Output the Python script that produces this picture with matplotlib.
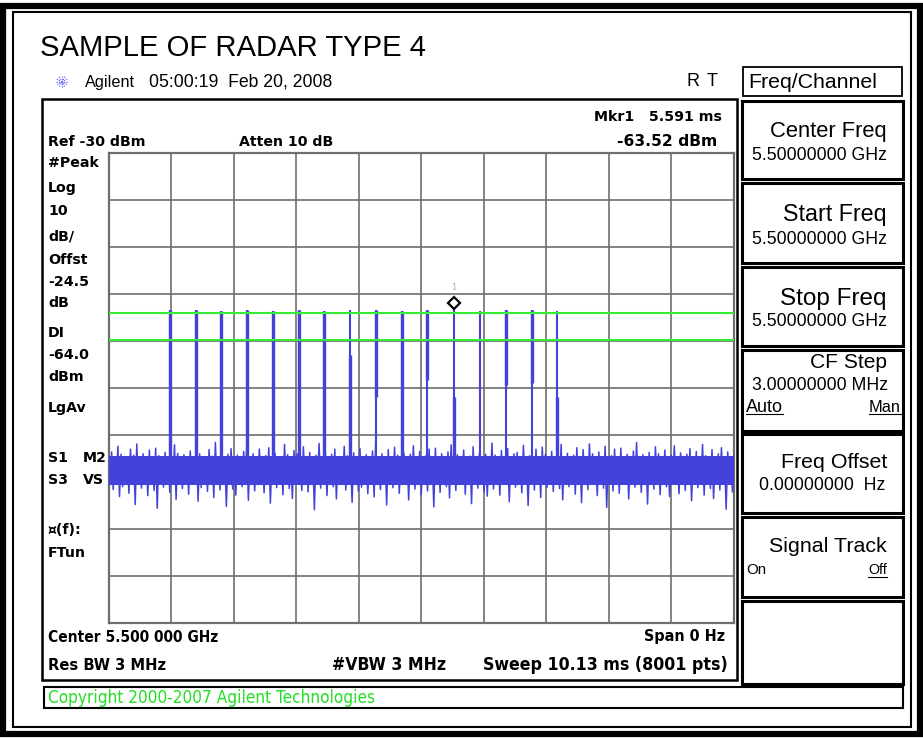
import numpy as np
import matplotlib
matplotlib.use("Agg")
import matplotlib.pyplot as plt
from matplotlib.patches import Rectangle

# ---------------- data ----------------
sweep_ms = 10.13
ref_dbm = -30.0
db_per_div = 10.0
pulse_times_ms = [1.000, 1.421, 1.825, 2.241, 2.662, 3.078, 3.487, 3.919,
                  4.334, 4.749, 5.165, 5.591, 6.017, 6.437, 6.853, 7.262]
pulse_top_dbm = [-63.5, -63.5, -63.6, -63.5, -63.6, -63.4, -63.6, -63.5,
                 -63.5, -63.6, -63.5, -63.5, -63.6, -63.5, -63.5, -63.6]
pulse_thick_lo = [-97, -97, -97, -97, -97, -97, -97, -97,
                  -81.9, -97, -78.3, -97, -97, -79.4, -79.0, -97]
pulse_thick_hi = [-63.5, -63.5, -63.6, -63.5, -63.6, -63.4, -63.6, -73.0,
                  -63.5, -63.6, -63.5, -81.9, -97, -63.5, -63.5, -81.9]
display_line_dbm = -64.0
threshold_line_dbm = -69.8
marker_time_ms = 5.591
marker_dbm = -63.52

noise_core = (-100.6, -94.5)
noise_hi = [-95.0,-93.6,-95.0,-92.4,-94.1,-95.0,-95.0,-93.0,-94.3,-91.9,-95.0,-94.0,-95.0,-93.2,-95.0,-92.8,-94.4,-95.0,-93.7,-95.0,
            -95.0,-92.1,-93.9,-95.0,-94.2,-95.0,-93.4,-95.0,-92.6,-94.0,-95.0,-95.0,-93.1,-94.5,-91.6,-95.0,-93.8,-95.0,-94.1,-92.9,
            -95.0,-94.3,-95.0,-93.5,-92.2,-95.0,-94.0,-95.0,-93.0,-95.0,-94.4,-92.7,-95.0,-93.9,-95.0,-95.0,-92.0,-94.2,-95.0,-93.3,
            -94.0,-95.0,-92.5,-95.0,-93.7,-95.0,-94.3,-91.8,-95.0,-93.6,-95.0,-94.1,-93.0,-95.0,-95.0,-92.4,-94.4,-95.0,-93.8,-95.0,
            -92.9,-95.0,-94.2,-95.0,-93.4,-91.5,-95.0,-94.0,-95.0,-93.1,-95.0,-92.6,-94.3,-95.0,-93.9,-95.0,-94.1,-92.3,-95.0,-93.5,
            -95.0,-94.4,-93.0,-95.0,-92.8,-95.0,-94.0,-95.0,-93.6,-92.1,-95.0,-94.2,-95.0,-93.2,-95.0,-94.5,-92.5,-95.0,-93.8,-95.0,
            -94.1,-95.0,-91.7,-94.3,-95.0,-93.3,-95.0,-92.9,-95.0,-94.0,-93.7,-95.0,-92.2,-95.0,-94.4,-95.0,-93.0,-95.0,-92.6,-94.1,
            -95.0,-93.5,-95.0,-94.2,-92.0,-95.0,-93.9,-95.0,-94.3,-92.7,-95.0,-93.1,-95.0,-91.9,-94.0,-95.0,-93.6,-95.0,-92.4,-95.0,
            -94.4,-93.0,-95.0,-92.8,-95.0,-94.1,-95.0,-93.4,-91.6,-95.0,-94.2,-95.0,-93.7,-95.0,-92.5,-94.0,-95.0,-93.2,-95.0,-94.3,
            -92.3,-95.0,-93.8,-95.0,-94.1,-92.9,-95.0,-93.5,-95.0,-92.0,-94.4,-95.0,-93.1,-95.0,-94.0,-92.7,-95.0,-93.6,-95.0,-94.2]
noise_lo = [-100.0,-101.6,-100.0,-103.1,-101.0,-100.0,-102.4,-100.0,-104.8,-100.0,-101.3,-100.0,-102.9,-100.0,-101.8,-105.6,-100.0,-101.1,-100.0,-102.2,
            -100.0,-103.7,-100.0,-101.4,-100.0,-102.6,-100.0,-100.0,-104.1,-101.2,-100.0,-102.0,-100.0,-103.3,-100.0,-101.7,-100.0,-105.2,-100.0,-101.5,
            -102.8,-100.0,-101.0,-100.0,-103.9,-100.0,-101.9,-100.0,-100.0,-102.3,-100.0,-104.5,-100.0,-101.2,-100.0,-102.7,-100.0,-101.4,-103.5,-100.0,
            -100.0,-101.8,-100.0,-102.1,-100.0,-105.9,-100.0,-101.3,-100.0,-102.9,-100.0,-101.0,-103.6,-100.0,-100.0,-101.7,-100.0,-104.3,-100.0,-102.0,
            -101.1,-100.0,-102.5,-100.0,-103.2,-100.0,-101.6,-100.0,-104.9,-100.0,-101.2,-100.0,-102.4,-100.0,-100.0,-103.8,-100.0,-101.5,-100.0,-102.7,
            -100.0,-101.9,-100.0,-105.3,-100.0,-102.2,-100.0,-101.0,-103.4,-100.0,-101.8,-100.0,-100.0,-102.6,-100.0,-104.6,-100.0,-101.3,-100.0,-102.1,
            -103.0,-100.0,-101.5,-100.0,-102.8,-100.0,-100.0,-104.2,-100.0,-101.1,-100.0,-102.3,-100.0,-105.0,-100.0,-101.7,-100.0,-103.3,-100.0,-101.2,
            -100.0,-102.0,-100.0,-101.4,-103.8,-100.0,-101.0,-100.0,-102.6,-100.0,-104.4,-100.0,-101.6,-100.0,-100.0,-102.9,-100.0,-101.3,-105.4,-100.0,
            -101.9,-100.0,-102.4,-100.0,-100.0,-103.6,-100.0,-101.1,-100.0,-102.2,-100.0,-104.7,-100.0,-101.5,-100.0,-102.7,-100.0,-101.0,-103.1,-100.0,
            -100.0,-102.5,-100.0,-101.8,-100.0,-104.0,-100.0,-101.2,-100.0,-102.8,-100.0,-101.4,-103.5,-100.0,-101.7,-100.0,-105.8,-100.0,-102.1,-100.0]

left_labels = ["Ref -30 dBm", "#Peak", "Log", "10", "dB/", "Offst", "-24.5", "dB", "DI", "-64.0",
               "dBm", "LgAv", "S1", "S3", "\u00a4(f):", "FTun"]
left_label_y = [142, 163, 188, 211, 237, 260, 282, 303, 333, 355, 377, 408, 458, 480, 530, 553]

softkey_titles = ["Center Freq", "Start Freq", "Stop Freq", "CF Step", "Freq Offset", "Signal Track", ""]
softkey_values = ["5.50000000 GHz", "5.50000000 GHz", "5.50000000 GHz", "3.00000000 MHz", "0.00000000  Hz", "", ""]

# ---------------- figure ----------------
W, H = 923, 738
fig = plt.figure(figsize=(W / 100, H / 100), dpi=100)
fig.patch.set_facecolor("white")
ov = fig.add_axes([0, 0, 1, 1])
ov.set_xlim(0, W)
ov.set_ylim(H, 0)
ov.axis("off")
renderer = fig.canvas.get_renderer()

ARIAL = ["Liberation Sans", "DejaVu Sans"]
WIDE = ["DejaVu Sans"]


def txt(x, y, s, width=None, size=10, ha="left", weight="normal", family=ARIAL, color="black", **kw):
    t = ov.text(x, y, s, ha=ha, va="center", fontsize=size, fontweight=weight,
                family=family, color=color, **kw)
    if width is not None:
        bb = t.get_window_extent(renderer=renderer)
        if bb.width > 0:
            t.set_fontsize(size * width / bb.width)
    return t


def rect(x0, y0, x1, y1, lw=1.5, ec="black", fc="none", z=2):
    ov.add_patch(Rectangle((x0, y0), x1 - x0, y1 - y0, lw=lw, ec=ec, fc=fc, zorder=z))


# outer frame
rect(3, 5.5, 919.5, 733.5, lw=4.5)
rect(13, 12, 911, 727, lw=1.5)

# title and header
txt(40, 48, "SAMPLE OF RADAR TYPE 4", width=387, size=17)
for ang in np.arange(0, 180, 30):
    dx, dy = 6 * np.cos(np.radians(ang)), 6 * np.sin(np.radians(ang))
    ov.plot([62 - dx, 62 + dx], [82 - dy, 82 + dy], color="#6b6bff", lw=0.9, ls=(0, (1, 1)))
txt(85, 82, "Agilent", width=50, size=9.5)
txt(149, 82, "05:00:19  Feb 20, 2008", width=183, size=9.5)
txt(686, 82, "R", size=13)
txt(707, 82, "T", size=13)

# main display box
rect(42, 98.5, 737, 680, lw=1.8)

# right softkey panel
rect(743, 67, 902, 96, lw=1.3)
txt(748, 82, "Freq/Channel", width=128, size=13)
box_tops = [101, 183, 267, 350, 434, 517, 601]
box_bots = [179, 263, 346, 431, 513, 597, 684]
for i in range(7):
    rect(742, box_tops[i], 903, box_bots[i], lw=2.2)
title_y = [131, 215, 299, 362, 463, 546]
value_y = [156, 240, 322, 386, 486, 570]
title_w = [118, 104, 107, 77, 107, 119]
for i in range(6):
    txt(887, title_y[i], softkey_titles[i], width=title_w[i], size=14, ha="right")
for i, vw in zip(range(5), [133, 133, 133, 134, 124]):
    xv = 752 if i < 4 else 759
    txt(xv, value_y[i], softkey_values[i], width=vw, size=12)
txt(746, 407, "Auto", width=37, size=11)
txt(901, 407, "Man", width=32, size=11, ha="right")
ov.plot([746, 783], [414, 414], color="black", lw=0.8)
ov.plot([869, 901], [414, 414], color="black", lw=0.8)
txt(746, 570, "On", width=20, size=11)
txt(887, 570, "Off", width=19, size=11, ha="right")
ov.plot([868, 887], [577, 577], color="black", lw=0.8)

# copyright box
rect(44, 687, 903, 708, lw=1.5)
txt(48, 698, "Copyright 2000-2007 Agilent Technologies", width=328, size=10,
    family=WIDE, fontstretch="condensed", color="#22e022")

# labels around the graticule (bold)
LBL = 10.2
txt(239, 142, "Atten 10 dB", size=LBL, weight="bold", family=WIDE)
txt(722, 117, "Mkr1   5.591 ms", width=127, size=LBL, weight="bold", ha="right", family=WIDE)
txt(717, 142, "-63.52 dBm", width=100, size=LBL, weight="bold", ha="right", family=WIDE)
for s, y in zip(left_labels, left_label_y):
    txt(48, y, s, size=LBL, weight="bold", family=WIDE)
txt(83, 458, "M2", size=LBL, weight="bold", family=WIDE)
txt(83, 480, "VS", size=LBL, weight="bold", family=WIDE)

CND = dict(weight="bold", family=WIDE, fontstretch="condensed")
txt(48, 637, "Center 5.500 000 GHz", width=169, size=11, **CND)
txt(725, 637, "Span 0 Hz", width=81, size=11, ha="right", **CND)
txt(48, 665, "Res BW 3 MHz", width=118, size=11, **CND)
txt(332, 665, "#VBW 3 MHz", width=113, size=11, **CND)
txt(483, 665, "Sweep 10.13 ms (8001 pts)", width=244, size=11, **CND)

# ---------------- graticule axes ----------------
gx0, gx1, gy0, gy1 = 108.5, 734.0, 153.0, 623.0
ax = fig.add_axes([gx0 / W, 1 - gy1 / H, (gx1 - gx0) / W, (gy1 - gy0) / H])
ax.set_facecolor("white")
bottom_dbm = ref_dbm - 10 * db_per_div
ax.set_xlim(0, sweep_ms)
ax.set_ylim(bottom_dbm, ref_dbm)
ax.set_xticks(np.linspace(0, sweep_ms, 11))
ax.set_yticks(np.linspace(bottom_dbm, ref_dbm, 11))
ax.tick_params(length=0, labelbottom=False, labelleft=False)
ax.grid(True, color="#6e6e6e", lw=1.2)
ax.set_axisbelow(True)
for sp in ax.spines.values():
    sp.set_color("#6e6e6e")
    sp.set_linewidth(1.6)

blue = "#4343dc"
t_n = np.linspace(0, sweep_ms, len(noise_hi))
dt = t_n[1] - t_n[0]
ax.fill_between([0, sweep_ms], [noise_core[0]] * 2, [noise_core[1]] * 2, color=blue, lw=0, zorder=3)
zx = np.empty(2 * len(t_n))
zy = np.empty(2 * len(t_n))
zx[0::2] = t_n
zx[1::2] = np.minimum(t_n + dt / 2, sweep_ms)
zy[0::2] = noise_hi
zy[1::2] = noise_lo
ax.plot(zx, zy, color=blue, lw=1.1, zorder=3)

# pulses: full-height trace plus thicker segment
ax.vlines(pulse_times_ms, -97, pulse_top_dbm, color=blue, lw=1.5, zorder=4)
ax.vlines(pulse_times_ms, pulse_thick_lo, pulse_thick_hi, color=blue, lw=2.4, zorder=4)

# display line and threshold line
ax.axhline(display_line_dbm, color="#33ee33", lw=1.5, zorder=5)
ax.axhline(threshold_line_dbm, color="#33ee33", lw=1.5, zorder=5)

# marker
ax.plot([marker_time_ms], [marker_dbm + 1.6], marker="D", ms=6.5, mfc="white", mec="black",
        mew=1.6, zorder=6, clip_on=False)
ax.text(marker_time_ms, marker_dbm + 5.0, "1", ha="center", va="center", fontsize=6,
        color="#aaaaaa", zorder=6)

fig.savefig("out.png", dpi=100)
